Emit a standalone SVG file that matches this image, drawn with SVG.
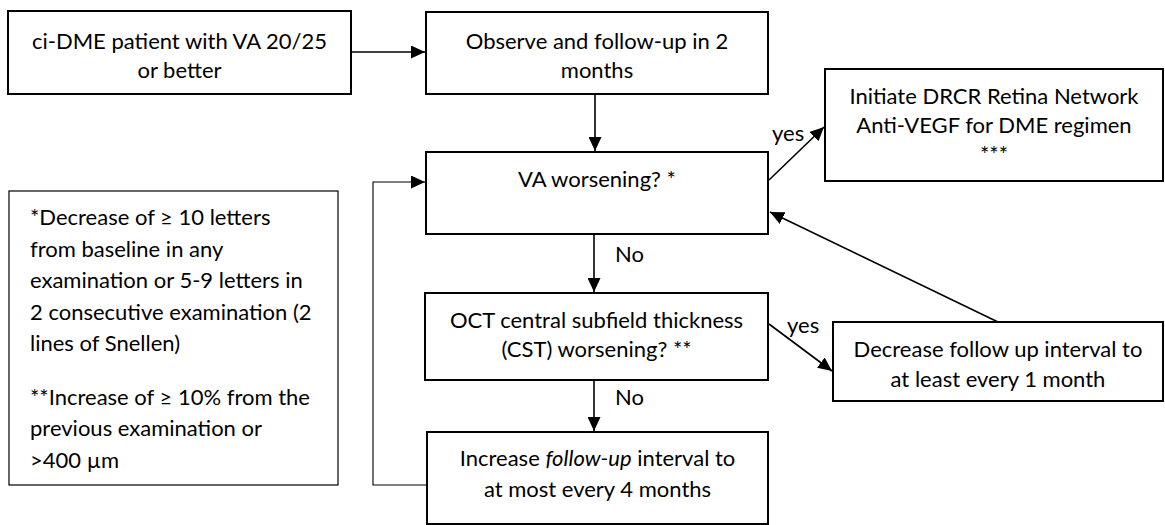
<svg xmlns="http://www.w3.org/2000/svg" width="1165" height="525" viewBox="0 0 1165 525">
<defs>
<marker id="ah" markerUnits="userSpaceOnUse" markerWidth="15" markerHeight="13" refX="14" refY="6.5" orient="auto">
<path d="M0,0 L14,6.5 L0,13 z" fill="#000"/>
</marker>
</defs>
<style>
.box{fill:#fff;stroke:#000;stroke-width:2}
.note{fill:#fff;stroke:#000;stroke-width:1.2}
.t{font-family:Lato,"Liberation Sans",sans-serif;font-size:22px;fill:#000}
.c{text-anchor:middle}
.ln{fill:none;stroke:#000;stroke-width:1.6}
.lt{fill:none;stroke:#000;stroke-width:1.1}
</style>
<rect width="1165" height="525" fill="#fff"/>
<g id="connectors">
<line class="ln" x1="351" y1="52" x2="425" y2="52" marker-end="url(#ah)"/>
<line class="ln" x1="595" y1="94" x2="595" y2="151" marker-end="url(#ah)"/>
<line class="ln" x1="769" y1="180" x2="824" y2="127" marker-end="url(#ah)"/>
<line class="ln" x1="594" y1="234" x2="594" y2="292" marker-end="url(#ah)"/>
<line class="ln" x1="594" y1="380" x2="594" y2="431" marker-end="url(#ah)"/>
<line class="ln" x1="769" y1="324" x2="832" y2="371" marker-end="url(#ah)"/>
<line class="ln" x1="998" y1="322" x2="770" y2="212" marker-end="url(#ah)"/>
<polyline class="lt" points="427,485 373,485 373,182 425,182" marker-end="url(#ah)"/>
<text class="t" x="772" y="141">yes</text>
<text class="t" x="787" y="333">yes</text>
<text class="t" x="615" y="262">No</text>
<text class="t" x="615" y="405">No</text>
</g>
<g id="start">
<rect class="box" x="8" y="11" width="343" height="83"/>
<text class="t c" x="179.5" y="49">ci-DME patient with VA 20/25</text>
<text class="t c" x="179.5" y="78">or better</text>
</g>
<g id="observe">
<rect class="box" x="426" y="12" width="342" height="82"/>
<text class="t c" x="597" y="49">Observe and follow-up in 2</text>
<text class="t c" x="597" y="78">months</text>
</g>
<g id="va">
<rect class="box" x="426" y="152" width="342" height="82"/>
<text class="t c" x="597" y="187">VA worsening? *</text>
</g>
<g id="initiate">
<rect class="box" x="825" y="69" width="338" height="112"/>
<text class="t c" x="994" y="104">Initiate DRCR Retina Network</text>
<text class="t c" x="994" y="133">Anti-VEGF for DME regimen</text>
<text class="t c" x="994" y="162">***</text>
</g>
<g id="oct">
<rect class="box" x="425" y="293" width="343" height="87"/>
<text class="t c" x="596.5" y="328">OCT central subfield thickness</text>
<text class="t c" x="596.5" y="357">(CST) worsening? **</text>
</g>
<g id="decrease">
<rect class="box" x="833" y="322" width="330" height="79"/>
<text class="t c" x="998" y="357">Decrease follow up interval to</text>
<text class="t c" x="998" y="387">at least every 1 month</text>
</g>
<g id="increase">
<rect class="box" x="427" y="432" width="341" height="92"/>
<text class="t c" x="597.5" y="466">Increase <tspan font-style="italic">follow-up</tspan> interval to</text>
<text class="t c" x="597.5" y="497">at most every 4 months</text>
</g>
<g id="footnote">
<rect class="note" x="9" y="191" width="329" height="294"/>
<text class="t" x="30" y="225">*Decrease of ≥ 10 letters</text>
<text class="t" x="30" y="257">from baseline in any</text>
<text class="t" x="30" y="288">examination or 5-9 letters in</text>
<text class="t" x="30" y="320">2 consecutive examination (2</text>
<text class="t" x="30" y="351">lines of Snellen)</text>
<text class="t" x="30" y="405">**Increase of ≥ 10% from the</text>
<text class="t" x="30" y="436">previous examination or</text>
<text class="t" x="30" y="468">&gt;400 µm</text>
</g>
</svg>
